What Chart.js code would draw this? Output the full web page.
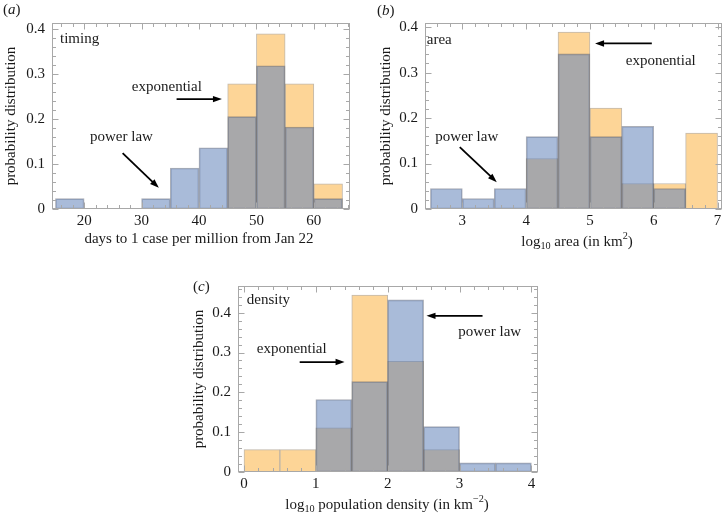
<!DOCTYPE html>
<html>
<head>
<meta charset="utf-8">
<script src="https://cdn.jsdelivr.net/npm/chart.js@4.4.1/dist/chart.umd.min.js"></script>
<style>
  html, body { margin: 0; padding: 0; background: #fff; }
  #page { position: relative; width: 727px; height: 519px; overflow: hidden; }
  .panel { position: absolute; }
</style>
</head>
<body>
<div id="page">
  <div class="panel" style="left:0;top:0;width:362px;height:255px"><canvas id="chartA"></canvas></div>
  <div class="panel" style="left:364px;top:0;width:363px;height:255px"><canvas id="chartB"></canvas></div>
  <div class="panel" style="left:180px;top:255px;width:380px;height:264px"><canvas id="chartC"></canvas></div>
</div>
<script>
// (a) timing: bin starts in days, bins are 5 wide
const timingBins = [15, 20, 25, 30, 35, 40, 45, 50, 55, 60];
const timingPowerLaw = [0.023, 0, 0, 0.023, 0.091, 0.136, 0.205, 0.318, 0.182, 0.023];
const timingExponential = [0, 0, 0, 0, 0, 0, 0.278, 0.389, 0.278, 0.056];
const timingTicks = [20, 30, 40, 50, 60];

// (b) area: bin starts in log10 km2, bins are 0.5 wide
const areaBins = [2.5, 3, 3.5, 4, 4.5, 5, 5.5, 6, 6.5];
const areaPowerLaw = [0.045, 0.023, 0.045, 0.159, 0.341, 0.159, 0.182, 0.045, 0];
const areaExponential = [0, 0, 0, 0.111, 0.389, 0.222, 0.056, 0.056, 0.167];
const areaTicks = [3, 4, 5, 6, 7];

// (c) density: bin starts in log10 km-2, bins are 0.5 wide
const densityBins = [0, 0.5, 1, 1.5, 2, 2.5, 3, 3.5];
const densityPowerLaw = [0, 0, 0.182, 0.227, 0.432, 0.114, 0.023, 0.023];
const densityExponential = [0.056, 0.056, 0.111, 0.444, 0.278, 0.056, 0, 0];
const densityTicks = [0, 1, 2, 3, 4];

const probTicks = [0, 0.1, 0.2, 0.3, 0.4];

const SERIF = '"Liberation Serif", "DejaVu Serif", serif';
const INK = '#1a1a1a';

// histogram bins -> bar points at bin centres, empty bins left out
const toPoints = (bins, width, values) =>
  bins.map((b, i) => ({ x: b + width / 2, y: values[i] })).filter((p) => p.y > 0);

// draw a run of text pieces (sub/sup/italic) centred or left-aligned at x
function drawRich(ctx, parts, x, y, align = 'center', size = 15) {
  const fontFor = (p) => `${p.italic ? 'italic ' : ''}${p.sub || p.sup ? size * 0.68 : size}px ${SERIF}`;
  let total = 0;
  parts.forEach((p) => { ctx.font = fontFor(p); total += ctx.measureText(p.t).width; });
  let cx = align === 'center' ? x - total / 2 : x;
  ctx.textAlign = 'left';
  ctx.textBaseline = 'middle';
  parts.forEach((p) => {
    ctx.font = fontFor(p);
    const dy = p.sub ? size * 0.3 : p.sup ? -size * 0.38 : 0;
    ctx.fillText(p.t, cx, y + dy);
    cx += ctx.measureText(p.t).width;
  });
}

function drawArrow(ctx, x1, y1, x2, y2) {
  const ang = Math.atan2(y2 - y1, x2 - x1);
  const len = 9, half = 3.2;
  ctx.strokeStyle = '#000';
  ctx.fillStyle = '#000';
  ctx.lineWidth = 1.8;
  ctx.beginPath();
  ctx.moveTo(x1, y1);
  ctx.lineTo(x2 - Math.cos(ang) * len * 0.8, y2 - Math.sin(ang) * len * 0.8);
  ctx.stroke();
  ctx.beginPath();
  ctx.moveTo(x2, y2);
  ctx.lineTo(x2 - Math.cos(ang) * len + Math.sin(ang) * half, y2 - Math.sin(ang) * len - Math.cos(ang) * half);
  ctx.lineTo(x2 - Math.cos(ang) * len - Math.sin(ang) * half, y2 - Math.sin(ang) * len + Math.cos(ang) * half);
  ctx.closePath();
  ctx.fill();
}

// Mathematica-style frame with inward major and minor ticks on all sides
const framePlugin = {
  id: 'frame',
  afterDatasetsDraw(chart, args, o) {
    const { ctx, chartArea: a, scales: { x, y } } = chart;
    const L = Math.round(a.left) + 0.5, R = Math.round(a.right) - 0.5;
    const T = Math.round(a.top) + 0.5, B = Math.round(a.bottom) - 0.5;
    ctx.save();
    ctx.strokeStyle = '#a8a8a8';
    ctx.lineWidth = 1;
    ctx.strokeRect(L, T, R - L, B - T);
    const marks = (scale, step, majors) => {
      const out = [];
      for (let i = Math.ceil(scale.min / step - 1e-9); i * step <= scale.max + 1e-9; i++) {
        const v = i * step;
        out.push({ p: Math.round(scale.getPixelForValue(v)) + 0.5, major: majors.some((m) => Math.abs(m - v) < 1e-6) });
      }
      return out;
    };
    ctx.beginPath();
    marks(x, o.xMinor, o.xMajor).forEach((m) => {
      const l = m.major ? 6 : 3.5;
      ctx.moveTo(m.p, B); ctx.lineTo(m.p, B - l);
      ctx.moveTo(m.p, T); ctx.lineTo(m.p, T + l);
    });
    marks(y, o.yMinor, probTicks).forEach((m) => {
      const l = m.major ? 6 : 3.5;
      ctx.moveTo(L, m.p); ctx.lineTo(L + l, m.p);
      ctx.moveTo(R, m.p); ctx.lineTo(R - l, m.p);
    });
    ctx.stroke();
    ctx.restore();
  }
};

// panel letter, in-plot labels, arrows and the x-axis title
const notesPlugin = {
  id: 'notes',
  afterDraw(chart, args, o) {
    const { ctx, scales: { x, y } } = chart;
    ctx.save();
    ctx.fillStyle = INK;
    drawRich(ctx, [{ t: '(' }, { t: o.letter, italic: true }, { t: ')' }], o.letterAt[0], o.letterAt[1], 'left');
    drawRich(ctx, o.xTitle, o.xTitleAt[0], o.xTitleAt[1]);
    o.labels.forEach((l) => {
      ctx.fillStyle = INK;
      drawRich(ctx, [{ t: l.t }], x.getPixelForValue(l.x), y.getPixelForValue(l.y), l.align || 'center');
    });
    o.arrows.forEach((r) => {
      drawArrow(ctx, x.getPixelForValue(r[0]), y.getPixelForValue(r[1]), x.getPixelForValue(r[2]), y.getPixelForValue(r[3]));
    });
    ctx.restore();
  }
};

function makePanel(id, p) {
  const barStyle = {
    grouped: false,
    barPercentage: 1,
    categoryPercentage: 1,
    borderWidth: 1,
    borderSkipped: false
  };
  return new Chart(document.getElementById(id), {
    type: 'bar',
    data: {
      datasets: [
        {
          label: 'power law',
          data: toPoints(p.bins, p.width, p.power),
          backgroundColor: 'rgba(98,131,185,0.55)',
          borderColor: 'rgba(70,78,95,0.45)',
          ...barStyle
        },
        {
          label: 'exponential',
          data: toPoints(p.bins, p.width, p.exp),
          backgroundColor: 'rgb(253,213,151)',
          borderColor: 'rgba(120,100,70,0.45)',
          ...barStyle
        }
      ]
    },
    options: {
      responsive: true,
      maintainAspectRatio: false,
      animation: false,
      events: [],
      layout: { padding: p.padding },
      plugins: {
        legend: { display: false },
        tooltip: { enabled: false },
        frame: { xMinor: p.xMinor, xMajor: p.xTicks, yMinor: 0.02 },
        notes: p.notes
      },
      scales: {
        x: {
          type: 'linear',
          min: p.xMin,
          max: p.xMax,
          offset: false,
          grid: { display: false, drawTicks: false },
          border: { display: false },
          afterBuildTicks: (s) => { s.ticks = p.xTicks.map((v) => ({ value: v })); },
          afterFit: (s) => { s.height = p.xAxisHeight; },
          ticks: { color: INK, font: { family: SERIF, size: 15 }, padding: 3, maxRotation: 0, autoSkip: false }
        },
        y: {
          min: 0,
          max: p.yMax,
          grid: { display: false, drawTicks: false },
          border: { display: false },
          afterBuildTicks: (s) => { s.ticks = probTicks.map((v) => ({ value: v })); },
          afterFit: (s) => { s.width = p.yAxisWidth; },
          ticks: {
            color: INK,
            font: { family: SERIF, size: 15 },
            padding: 7,
            callback: (v) => (v === 0 ? '0' : v.toFixed(1))
          },
          title: {
            display: true,
            text: 'probability distribution',
            color: INK,
            font: { family: SERIF, size: 15 },
            padding: { top: 2, bottom: 0 }
          }
        }
      }
    },
    plugins: [framePlugin, notesPlugin]
  });
}

makePanel('chartA', {
  bins: timingBins, width: 5, power: timingPowerLaw, exp: timingExponential,
  xMin: 14.4, xMax: 66.3, yMax: 0.413, xTicks: timingTicks, xMinor: 2,
  padding: { left: 0, top: 23, right: 12, bottom: 0 },
  yAxisWidth: 52, xAxisHeight: 46,
  notes: {
    letter: 'a', letterAt: [3, 10],
    xTitle: [{ t: 'days to 1 case per million from Jan 22' }], xTitleAt: [199, 239],
    labels: [
      { t: 'timing', x: 15.8, y: 0.378, align: 'left' },
      { t: 'exponential', x: 34.4, y: 0.271 },
      { t: 'power law', x: 26.5, y: 0.160 }
    ],
    arrows: [[36.1, 0.244, 44.0, 0.244], [26.7, 0.124, 33.0, 0.047]]
  }
});

makePanel('chartB', {
  bins: areaBins, width: 0.5, power: areaPowerLaw, exp: areaExponential,
  xMin: 2.415, xMax: 7.07, yMax: 0.409, xTicks: areaTicks, xMinor: 0.2,
  padding: { left: 10.6, top: 23, right: 5, bottom: 0 },
  yAxisWidth: 50.4, xAxisHeight: 46,
  notes: {
    letter: 'b', letterAt: [13, 11],
    xTitle: [{ t: 'log' }, { t: '10', sub: true }, { t: ' area (in km' }, { t: '2', sup: true }, { t: ')' }],
    xTitleAt: [213, 242],
    labels: [
      { t: 'area', x: 2.443, y: 0.371, align: 'left' },
      { t: 'exponential', x: 6.11, y: 0.325 },
      { t: 'power law', x: 3.07, y: 0.158 }
    ],
    arrows: [[5.97, 0.364, 5.08, 0.364], [2.96, 0.136, 3.54, 0.059]]
  }
});

makePanel('chartC', {
  bins: densityBins, width: 0.5, power: densityPowerLaw, exp: densityExponential,
  xMin: -0.0835, xMax: 4.092, yMax: 0.467, xTicks: densityTicks, xMinor: 0.2,
  padding: { left: 7.6, top: 31, right: 22, bottom: 0 },
  yAxisWidth: 50.4, xAxisHeight: 47,
  notes: {
    letter: 'c', letterAt: [13, 32],
    xTitle: [{ t: 'log' }, { t: '10', sub: true }, { t: ' population density (in km' }, { t: '\u22122', sup: true }, { t: ')' }],
    xTitleAt: [207, 250],
    labels: [
      { t: 'density', x: 0.038, y: 0.432, align: 'left' },
      { t: 'exponential', x: 0.664, y: 0.309 },
      { t: 'power law', x: 3.42, y: 0.351 }
    ],
    arrows: [[0.775, 0.276, 1.40, 0.276], [3.32, 0.392, 2.54, 0.392]]
  }
});
</script>
</body>
</html>
